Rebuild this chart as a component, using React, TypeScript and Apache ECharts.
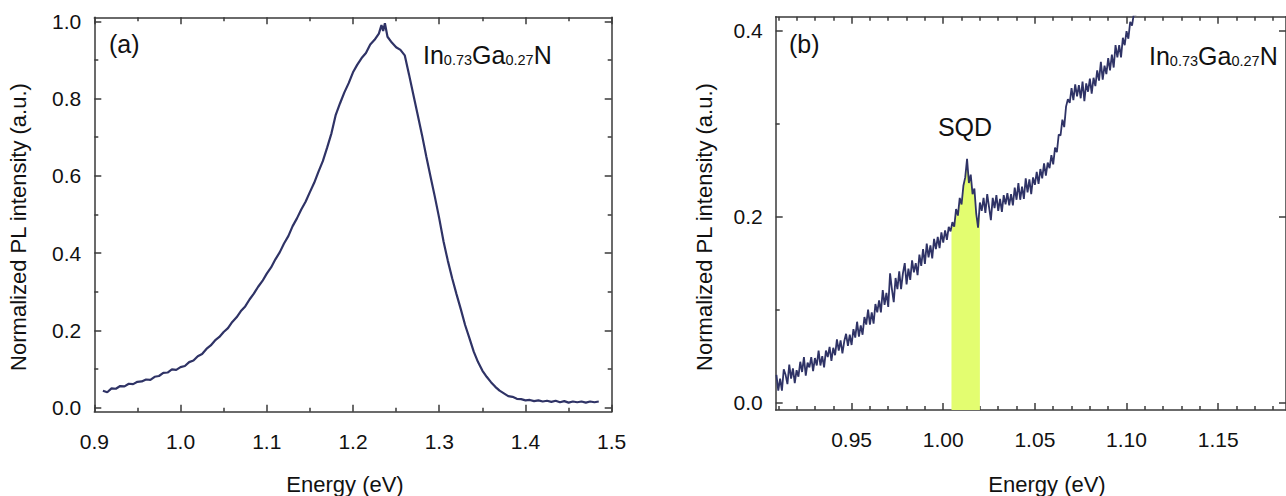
import React, { useEffect, useRef } from "react";
import * as echarts from "echarts";

// ---------- data ----------
const panelALabels = ["0.9", "1.0", "1.1", "1.2", "1.3", "1.4", "1.5"];
const panelAXMajor = [0.9, 1.0, 1.1, 1.2, 1.3, 1.4, 1.5];
const panelAXMinor = [0.95, 1.05, 1.15, 1.25, 1.35, 1.45];
const panelAYMajor = [0, 0.2, 0.4, 0.6, 0.8, 1.0];
const panelAYMinor = [0.1, 0.3, 0.5, 0.7, 0.9];

const panelBXMajor = [0.95, 1.0, 1.05, 1.1, 1.15];
const panelBXMinor = [0.91, 0.92, 0.93, 0.94, 0.96, 0.97, 0.98, 0.99, 1.01, 1.02, 1.03, 1.04, 1.06, 1.07, 1.08, 1.09, 1.11, 1.12, 1.13, 1.14, 1.16, 1.17, 1.18];
const panelBYMajor = [0, 0.2, 0.4];
const panelBYMinor = [0.1, 0.3];

// Panel (a): full PL spectrum [energy eV, normalized intensity]
const spectrumA: number[][] = [
  [0.910,0.044],[0.915,0.040],[0.920,0.050],[0.925,0.049],[0.930,0.056],[0.935,0.055],[0.940,0.062],[0.945,0.061],
  [0.950,0.067],[0.955,0.068],[0.960,0.073],[0.965,0.072],[0.970,0.080],[0.975,0.082],[0.980,0.090],[0.985,0.091],
  [0.990,0.099],[0.995,0.098],[1.000,0.105],[1.005,0.108],[1.010,0.118],[1.015,0.122],[1.020,0.133],[1.025,0.139],
  [1.030,0.152],[1.035,0.161],[1.040,0.174],[1.045,0.183],[1.050,0.196],[1.055,0.206],[1.060,0.222],[1.065,0.234],
  [1.070,0.250],[1.075,0.262],[1.080,0.280],[1.085,0.295],[1.090,0.313],[1.095,0.328],[1.100,0.347],[1.105,0.363],
  [1.110,0.384],[1.115,0.402],[1.120,0.425],[1.125,0.444],[1.130,0.470],[1.135,0.490],[1.140,0.513],[1.145,0.533],
  [1.150,0.558],[1.155,0.582],[1.160,0.611],[1.165,0.638],[1.170,0.673],[1.175,0.710],[1.180,0.758],[1.185,0.788],
  [1.190,0.816],[1.195,0.840],[1.200,0.868],[1.205,0.888],[1.210,0.905],[1.215,0.918],[1.220,0.940],[1.225,0.952],
  [1.230,0.968],[1.233,0.990],[1.235,0.975],[1.237,0.995],[1.240,0.960],[1.245,0.945],[1.250,0.933],[1.255,0.926],
  [1.260,0.912],[1.265,0.862],[1.270,0.810],[1.275,0.758],[1.280,0.706],[1.285,0.650],[1.290,0.597],[1.295,0.545],
  [1.300,0.490],[1.305,0.430],[1.310,0.380],[1.315,0.335],[1.320,0.294],[1.325,0.255],[1.330,0.214],[1.335,0.180],
  [1.340,0.145],[1.345,0.118],[1.350,0.096],[1.355,0.080],[1.360,0.066],[1.365,0.054],[1.370,0.044],[1.375,0.037],
  [1.380,0.030],[1.385,0.028],[1.390,0.023],[1.395,0.022],[1.400,0.019],[1.405,0.020],[1.410,0.017],[1.415,0.019],
  [1.420,0.016],[1.425,0.018],[1.430,0.015],[1.435,0.018],[1.440,0.014],[1.445,0.017],[1.450,0.013],[1.455,0.016],
  [1.460,0.014],[1.465,0.016],[1.470,0.013],[1.475,0.016],[1.480,0.014],[1.485,0.016]
];

// Panel (b): zoomed low-energy side with the SQD line [energy eV, intensity]
const spectrumB: number[][] = [
  [0.909,0.030],[0.910,0.013],[0.911,0.026],[0.912,0.013],[0.913,0.036],[0.914,0.030],[0.915,0.020],[0.916,0.041],
  [0.917,0.026],[0.918,0.037],[0.919,0.021],[0.920,0.035],[0.921,0.028],[0.922,0.044],[0.923,0.033],[0.924,0.049],
  [0.925,0.029],[0.926,0.043],[0.927,0.038],[0.928,0.049],[0.929,0.034],[0.930,0.048],[0.931,0.040],[0.932,0.056],
  [0.933,0.040],[0.934,0.050],[0.935,0.038],[0.936,0.056],[0.937,0.049],[0.938,0.060],[0.939,0.045],[0.940,0.059],
  [0.941,0.051],[0.942,0.068],[0.943,0.056],[0.944,0.067],[0.945,0.053],[0.946,0.066],[0.947,0.074],[0.948,0.061],
  [0.949,0.073],[0.950,0.062],[0.951,0.079],[0.952,0.070],[0.953,0.087],[0.954,0.071],[0.955,0.083],[0.956,0.073],
  [0.957,0.092],[0.958,0.084],[0.959,0.100],[0.960,0.084],[0.961,0.097],[0.962,0.085],[0.963,0.106],[0.964,0.097],
  [0.965,0.110],[0.966,0.097],[0.967,0.121],[0.968,0.105],[0.969,0.118],[0.970,0.103],[0.971,0.139],[0.972,0.122],
  [0.973,0.108],[0.974,0.134],[0.975,0.122],[0.976,0.141],[0.977,0.122],[0.978,0.139],[0.979,0.150],[0.980,0.127],
  [0.981,0.144],[0.982,0.132],[0.983,0.153],[0.984,0.140],[0.985,0.150],[0.986,0.137],[0.987,0.159],[0.988,0.147],
  [0.989,0.165],[0.990,0.149],[0.991,0.171],[0.992,0.156],[0.993,0.169],[0.994,0.155],[0.995,0.176],[0.996,0.165],
  [0.997,0.178],[0.998,0.166],[0.999,0.183],[1.000,0.172],[1.001,0.185],[1.002,0.175],[1.003,0.189],[1.004,0.184],
  [1.005,0.194],[1.006,0.189],[1.007,0.208],[1.008,0.201],[1.009,0.220],[1.010,0.213],[1.011,0.233],[1.012,0.242],
  [1.013,0.262],[1.014,0.236],[1.015,0.245],[1.016,0.224],[1.017,0.230],[1.018,0.203],[1.019,0.188],[1.020,0.215],
  [1.021,0.206],[1.022,0.220],[1.023,0.204],[1.024,0.224],[1.025,0.210],[1.026,0.196],[1.027,0.220],[1.028,0.209],
  [1.029,0.223],[1.030,0.206],[1.031,0.219],[1.032,0.205],[1.033,0.223],[1.034,0.213],[1.035,0.225],[1.036,0.212],
  [1.037,0.224],[1.038,0.212],[1.039,0.231],[1.040,0.218],[1.041,0.236],[1.042,0.218],[1.043,0.232],[1.044,0.219],
  [1.045,0.241],[1.046,0.226],[1.047,0.240],[1.048,0.224],[1.049,0.242],[1.050,0.234],[1.051,0.248],[1.052,0.235],
  [1.053,0.251],[1.054,0.241],[1.055,0.257],[1.056,0.244],[1.057,0.258],[1.058,0.252],[1.059,0.266],[1.060,0.256],
  [1.061,0.274],[1.062,0.269],[1.063,0.288],[1.064,0.287],[1.065,0.304],[1.066,0.296],[1.067,0.318],[1.068,0.326],
  [1.069,0.322],[1.070,0.338],[1.071,0.325],[1.072,0.342],[1.073,0.329],[1.074,0.341],[1.075,0.327],[1.076,0.345],
  [1.077,0.324],[1.078,0.343],[1.079,0.334],[1.080,0.348],[1.081,0.332],[1.082,0.349],[1.083,0.340],[1.084,0.357],
  [1.085,0.346],[1.086,0.366],[1.087,0.347],[1.088,0.362],[1.089,0.353],[1.090,0.370],[1.091,0.357],[1.092,0.374],
  [1.093,0.360],[1.094,0.384],[1.095,0.371],[1.096,0.384],[1.097,0.371],[1.098,0.392],[1.099,0.384],[1.100,0.399],
  [1.101,0.391],[1.102,0.409],[1.103,0.405],[1.104,0.418],[1.105,0.416],[1.106,0.431],[1.107,0.429],[1.108,0.441]
];

// SQD highlighted band (energy range) and its edge heights
const sqdBand = [1.0045, 1.0200];
const sqdEdgeHeights = [0.188, 0.205];

// ---------- styling ----------
const FONT = '"Liberation Sans", Arial, Helvetica, sans-serif';
const LINE_COLOR = "#2f3366";
const AXIS_COLOR = "#3a3a3a";
const BAND_COLOR = "#e3fd70";

function axisSet(
  kind: "x" | "y",
  gridIndex: number,
  min: number,
  max: number,
  majors: number[],
  minors: number[],
  oppMajors: number[],
  oppMinors: number[],
  decimals: number,
  labelMargin: number
) {
  const side = kind === "x" ? "bottom" : "left";
  const opp = kind === "x" ? "top" : "right";
  const base = {
    type: "value",
    gridIndex,
    min,
    max,
    splitLine: { show: false },
    axisPointer: { show: false },
  };
  const lineStyle = { color: AXIS_COLOR, width: 1.5 };
  return [
    {
      ...base,
      position: side,
      axisLine: { show: true, onZero: false, lineStyle },
      axisTick: { show: true, inside: true, length: 7, customValues: majors, lineStyle },
      axisLabel: {
        show: true,
        customValues: majors,
        formatter: (v: number) => v.toFixed(decimals),
        fontFamily: FONT,
        fontSize: 21,
        color: "#111",
        margin: labelMargin,
      },
    },
    {
      ...base,
      position: side,
      axisLine: { show: false, onZero: false },
      axisTick: { show: minors.length > 0, inside: true, length: 4, customValues: minors, lineStyle },
      axisLabel: { show: false },
    },
    {
      ...base,
      position: opp,
      axisLine: { show: true, onZero: false, lineStyle },
      axisTick: { show: oppMajors.length > 0, inside: true, length: 7, customValues: oppMajors, lineStyle },
      axisLabel: { show: false },
    },
    {
      ...base,
      position: opp,
      axisLine: { show: false, onZero: false },
      axisTick: { show: oppMinors.length > 0, inside: true, length: 4, customValues: oppMinors, lineStyle },
      axisLabel: { show: false },
    },
  ];
}

function textEl(text: string, x: number, y: number, size: number, align = "center", rotation = 0) {
  return {
    type: "text",
    x,
    y,
    rotation,
    silent: true,
    style: {
      text,
      fontFamily: FONT,
      fontSize: size,
      fill: "#111",
      textAlign: align,
      textVerticalAlign: "middle",
    },
  };
}

function formulaEl(x: number, y: number) {
  return {
    type: "text",
    x,
    y,
    silent: true,
    style: {
      text: "{m|In}{s|0.73}{m|Ga}{s|0.27}{m|N}",
      textAlign: "left",
      textVerticalAlign: "middle",
      fill: "#111",
      rich: {
        m: { fontFamily: FONT, fontSize: 25, lineHeight: 25, fill: "#111", verticalAlign: "bottom" },
        s: { fontFamily: FONT, fontSize: 14.5, lineHeight: 14.5, fill: "#111", verticalAlign: "bottom" },
      },
    },
  };
}

export default function App() {
  const ref = useRef<HTMLDivElement>(null);

  useEffect(() => {
    if (!ref.current) return;
    const chart = echarts.init(ref.current, null, { renderer: "svg" });

    const aXmin = 0.9, aXmax = 1.5, aYmin = -0.0104, aYmax = 1.0104;
    const bXmin = 0.9086, bXmax = 1.187, bYmin = -0.0078, bYmax = 0.4146;

    const xAxes = [
      ...axisSet("x", 0, aXmin, aXmax, panelAXMajor, panelAXMinor, panelAXMajor, panelAXMinor, 1, 19),
      ...axisSet("x", 1, bXmin, bXmax, panelBXMajor, panelBXMinor, panelBXMajor, panelBXMinor, 2, 19),
    ];
    const yAxes = [
      ...axisSet("y", 0, aYmin, aYmax, panelAYMajor, panelAYMinor, panelAYMajor, panelAYMinor, 1, 13),
      ...axisSet("y", 1, bYmin, bYmax, panelBYMajor, panelBYMinor, panelBYMajor, [], 1, 13),
    ];
    (xAxes[0] as any).axisLabel.formatter = (v: number) => {
      const i = panelAXMajor.findIndex((m) => Math.abs(m - v) < 1e-9);
      return i >= 0 ? panelALabels[i] : v.toFixed(1);
    };

    const bandData: number[][] = [
      [sqdBand[0], sqdEdgeHeights[0]],
      ...spectrumB.filter((p) => p[0] > sqdBand[0] && p[0] < sqdBand[1]),
      [sqdBand[1], sqdEdgeHeights[1]],
    ];

    chart.setOption({
      animation: false,
      backgroundColor: "#ffffff",
      grid: [
        { left: 94.3, top: 17.3, width: 517.4, height: 394.4, containLabel: false },
        { left: 775.7, top: 16.7, width: 510.3, height: 393.3, containLabel: false },
      ],
      xAxis: xAxes,
      yAxis: yAxes,
      series: [
        {
          type: "line",
          name: "PL (a)",
          xAxisIndex: 0,
          yAxisIndex: 0,
          data: spectrumA,
          showSymbol: false,
          symbol: "none",
          lineStyle: { color: LINE_COLOR, width: 2.2 },
          clip: true,
        },
        {
          type: "line",
          name: "SQD band",
          xAxisIndex: 4,
          yAxisIndex: 4,
          data: bandData,
          showSymbol: false,
          symbol: "none",
          lineStyle: { width: 0, opacity: 0 },
          areaStyle: { color: BAND_COLOR, opacity: 1, origin: "start" },
          clip: true,
          z: 1,
        },
        {
          type: "line",
          name: "PL (b)",
          xAxisIndex: 4,
          yAxisIndex: 4,
          data: spectrumB,
          showSymbol: false,
          symbol: "none",
          lineStyle: { color: LINE_COLOR, width: 1.8 },
          clip: true,
          z: 3,
        },
      ],
      graphic: [
        textEl("Normalized PL intensity (a.u.)", 18, 227, 22, "center", Math.PI / 2),
        textEl("Normalized PL intensity (a.u.)", 704, 227, 22, "center", Math.PI / 2),
        textEl("Energy (eV)", 345, 484, 22, "center"),
        textEl("Energy (eV)", 1047, 484, 22, "center"),
        textEl("(a)", 109, 44, 25, "left"),
        textEl("(b)", 789, 44, 25, "left"),
        textEl("SQD", 965, 127, 25, "center"),
        formulaEl(423, 55),
        formulaEl(1149, 56),
      ],
    });

    return () => chart.dispose();
  }, []);

  return (
    <div
      ref={ref}
      style={{ position: "fixed", left: 0, top: 0, width: 1286, height: 496, background: "#fff" }}
    />
  );
}
